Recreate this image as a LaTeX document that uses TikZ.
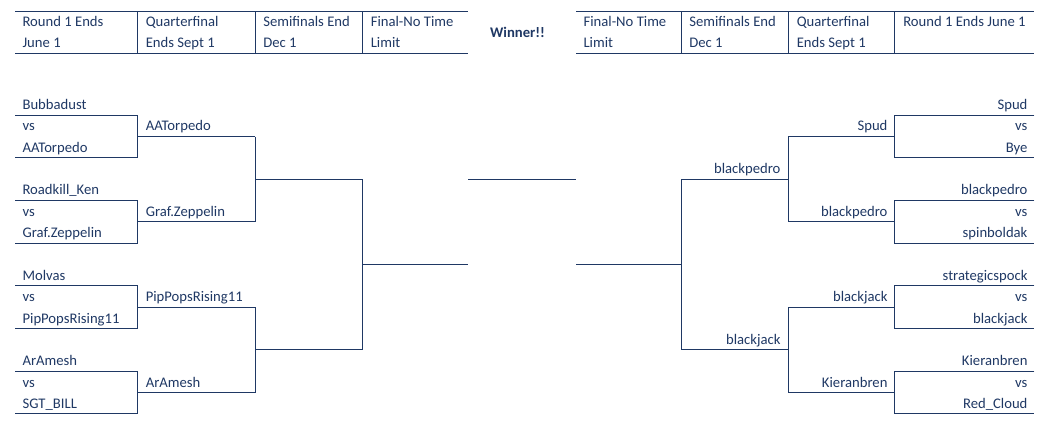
\documentclass[tikz,border=0pt]{standalone}
\usepackage{fontspec}
\setmainfont{Carlito}
\usetikzlibrary{positioning}
\definecolor{bkblue}{HTML}{1F3864}

\begin{document}
\begin{tikzpicture}[x=0.75pt,y=-0.75pt,font=\fontsize{11}{13}\selectfont,
  line/.style={draw=bkblue,line width=0.75pt},
  lname/.style={anchor=base west,inner sep=0pt,text=bkblue},
  rname/.style={anchor=base east,inner sep=0pt,text=bkblue}]
  \useasboundingbox (0,0) rectangle (1044,423);
  % header, left half
  \draw[line] (15,11.7) -- (468.3,11.7) (15,53.3) -- (468.3,53.3);
  \foreach \x in {137.3,255.3,362.3} \draw[line] (\x,11.7) -- (\x,53.3);
  \foreach \x/\ta/\tb [count=\i] in {22.3/Round 1 Ends/June 1, 145.5/Quarterfinal/Ends Sept 1,
      263/Semifinals End/Dec 1, 370.5/Final-No Time/Limit} {
    \node[lname] (lh\i a) at (\x,26.5) {\ta};
    \node[lname] (lh\i b) at (\x,47.5) {\tb};
  }
  % header, right half
  \draw[line] (576,11.7) -- (1034.3,11.7) (576,53.3) -- (1034.3,53.3);
  \foreach \x in {681.7,788.3,894.3} \draw[line] (\x,11.7) -- (\x,53.3);
  \foreach \x/\ta/\tb [count=\i] in {583.3/Final-No Time/Limit, 689/Semifinals End/Dec 1,
      796.5/Quarterfinal/Ends Sept 1} {
    \node[lname] (rh\i a) at (\x,26.5) {\ta};
    \node[lname] (rh\i b) at (\x,47.5) {\tb};
  }
  \node[lname] (rh4a) at (903,26.5) {Round 1 Ends June 1};
  \node[text=bkblue,font=\fontsize{11}{13}\selectfont\bfseries] (winner) at (517.5,32) {Winner!!};
  % left bracket: round 1 and quarterfinals
  \foreach \y/\a/\b/\w [count=\i] in {115.3/Bubbadust/AATorpedo/AATorpedo,
      200.6/Roadkill\_Ken/Graf.Zeppelin/Graf.Zeppelin,
      286/Molvas/PipPopsRising11/PipPopsRising11,
      371.3/ArAmesh/SGT\_BILL/ArAmesh} {
    \node[lname] (la\i) at (22.3,\y-5.6) {\a};
    \node[lname] (lv\i) at (22.3,\y+15.7) {vs};
    \node[lname] (lb\i) at (22.3,\y+37.1) {\b};
    \node[lname] (lq\i) at (145.5,\y+15.7) {\w};
    \draw[line] (15,\y) -- (137.3,\y) -- (137.3,\y+42.67) -- (15,\y+42.67);
    \draw[line] (137.3,\y+21.33) -- (255.3,\y+21.33);
  }
  % left semifinals and final
  \draw[line] (255.3,136.6) -- (255.3,222) (255.3,307.3) -- (255.3,392.6);
  \draw[line] (255.3,179.3) -- (362.3,179.3) (255.3,349.9) -- (362.3,349.9);
  \draw[line] (362.3,179.3) -- (362.3,349.9);
  \draw[line] (362.3,264.6) -- (468.3,264.6);
  \draw[line] (468.3,179.3) -- (576,179.3);
  % right bracket: round 1 and quarterfinals
  \foreach \y/\a/\b/\w [count=\i] in {115.3/Spud/Bye/Spud,
      200.6/blackpedro/spinboldak/blackpedro,
      286/strategicspock/blackjack/blackjack,
      371.3/Kieranbren/Red\_Cloud/Kieranbren} {
    \node[rname] (ra\i) at (1027.7,\y-5.6) {\a};
    \node[rname] (rv\i) at (1027.7,\y+15.7) {vs};
    \node[rname] (rb\i) at (1027.7,\y+37.1) {\b};
    \node[rname] (rq\i) at (887.7,\y+15.7) {\w};
    \draw[line] (1034.3,\y) -- (894.3,\y) -- (894.3,\y+42.67) -- (1034.3,\y+42.67);
    \draw[line] (894.3,\y+21.33) -- (788.3,\y+21.33);
  }
  % right semifinals and final
  \draw[line] (788.3,136.6) -- (788.3,222) (788.3,307.3) -- (788.3,392.6);
  \draw[line] (788.3,179.3) -- (681.7,179.3) (788.3,349.9) -- (681.7,349.9);
  \node[rname] (rs1) at (780.7,173.7) {blackpedro};
  \node[rname] (rs2) at (780.7,344.3) {blackjack};
  \draw[line] (681.7,179.3) -- (681.7,349.9);
  \draw[line] (681.7,264.6) -- (576,264.6);
\end{tikzpicture}
\end{document}
